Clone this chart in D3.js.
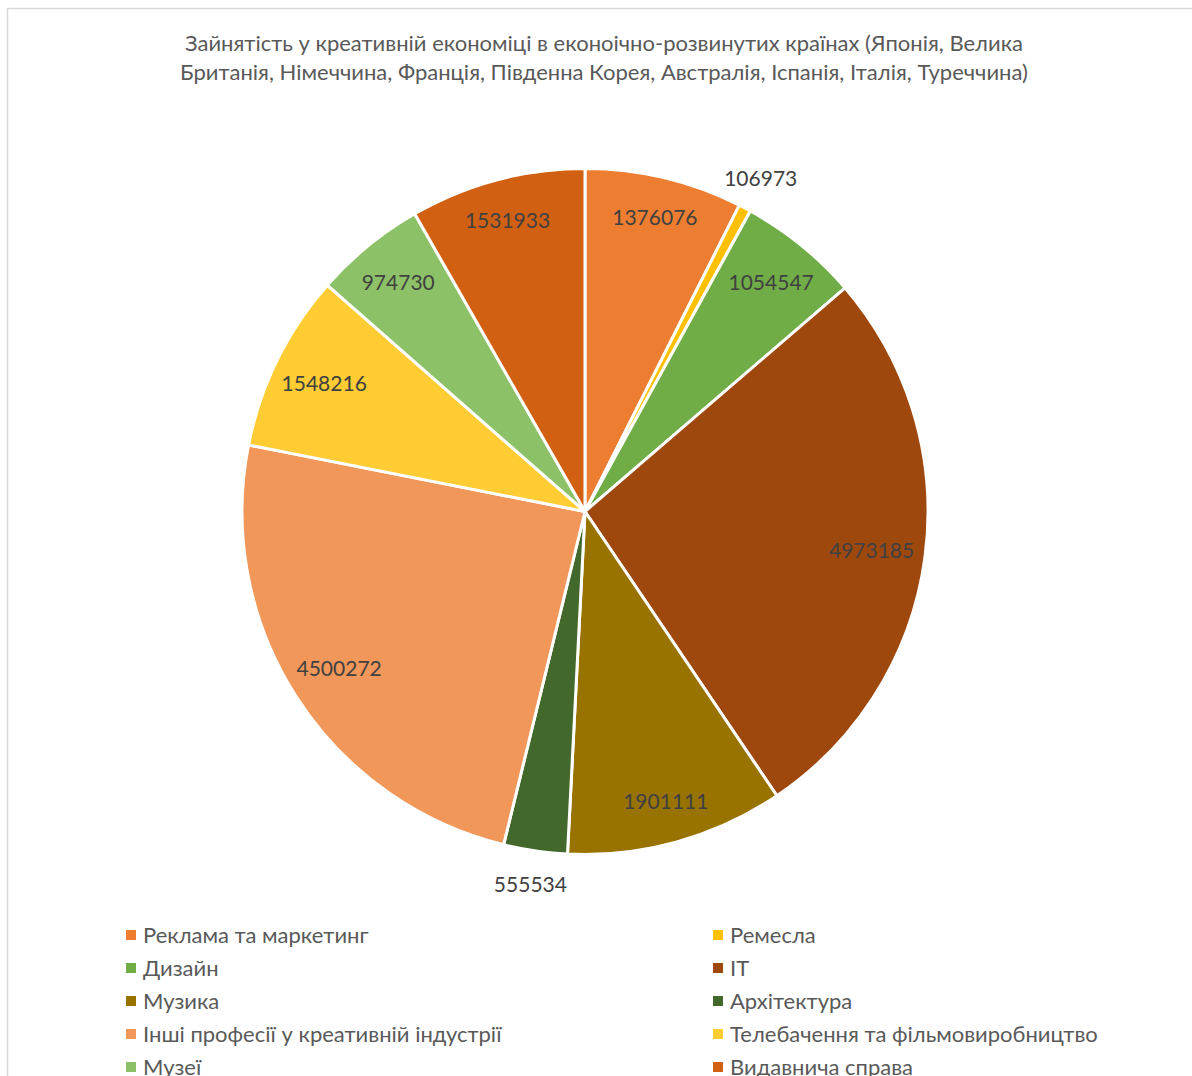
<!DOCTYPE html>
<html>
<head>
<meta charset="utf-8">
<script src="https://cdn.jsdelivr.net/npm/d3@7"></script>
<style>
  html, body { margin: 0; padding: 0; background: #fff; }
  svg { display: block; font-family: Lato, "Open Sans", sans-serif; }
</style>
</head>
<body>
<svg id="chart" width="1192" height="1076"></svg>
<script>
// Employment in the creative economy by sector
const titleLines = [
  "Зайнятість у креативній економіці в еконоічно-розвинутих країнах (Японія, Велика",
  "Британія, Німеччина, Франція, Південна Корея, Австралія, Іспанія, Італія, Туреччина)"
];
const categories = [
  "Реклама та маркетинг",
  "Ремесла",
  "Дизайн",
  "IT",
  "Музика",
  "Архітектура",
  "Інші професії у креативній індустрії",
  "Телебачення та фільмовиробництво",
  "Музеї",
  "Видавнича справа"
];
const values = [1376076, 106973, 1054547, 4973185, 1901111, 555534, 4500272, 1548216, 974730, 1531933];
const colors = ["#ED7D31", "#FFC000", "#70AD47", "#9E480E", "#997300", "#43682B", "#F1975A", "#FFCD33", "#8CC168", "#D26012"];

const W = 1192, H = 1076;
const cx = 585, cy = 511.5, R = 343;

const svg = d3.select("#chart");

// chart area frame (continues past the right and bottom edges)
svg.append("rect")
  .attr("x", 7.5).attr("y", 8.5)
  .attr("width", W + 20).attr("height", H + 20)
  .attr("fill", "#fff")
  .attr("stroke", "#d9d9d9").attr("stroke-width", 1.5);

// title
const title = svg.append("text")
  .attr("text-anchor", "middle")
  .attr("fill", "#595959")
  .attr("font-size", 22);
titleLines.forEach((t, i) => {
  title.append("tspan").attr("x", 604).attr("y", 51 + i * 29).text(t);
});

// pie
const data = categories.map((c, i) => ({ name: c, value: values[i], color: colors[i] }));
const total = d3.sum(values);
const pie = d3.pie().sort(null).value(d => d.value);
const arcs = pie(data);
const arc = d3.arc().innerRadius(0).outerRadius(R);

const g = svg.append("g").attr("transform", `translate(${cx},${cy})`);
g.selectAll("path.slice")
  .data(arcs)
  .join("path")
  .attr("class", "slice")
  .attr("d", arc)
  .attr("fill", d => d.data.color)
  .attr("stroke", "#fff")
  .attr("stroke-width", 3)
  .attr("stroke-linejoin", "round");

// data labels: inside near the rim (pulled in further where the wide
// label box faces the rim sideways), small slices just outside
function labelPos(d) {
  const a = (d.startAngle + d.endAngle) / 2;
  const small = d.data.value / total < 0.035;
  const r = small ? 377 : 306 - 17 * Math.abs(Math.sin(a));
  return [r * Math.sin(a), -r * Math.cos(a)];
}
g.selectAll("text.val")
  .data(arcs)
  .join("text")
  .attr("class", "val")
  .attr("transform", d => `translate(${labelPos(d)})`)
  .attr("text-anchor", "middle")
  .attr("dy", "0.36em")
  .attr("fill", "#404040")
  .attr("font-size", 21)
  .text(d => d.data.value);

// legend, two columns filled row by row
const legend = svg.append("g");
const colX = [126, 713], rowY0 = 935, rowStep = 33;
const items = legend.selectAll("g.item")
  .data(data)
  .join("g")
  .attr("class", "item")
  .attr("transform", (d, i) => `translate(${colX[i % 2]},${rowY0 + Math.floor(i / 2) * rowStep})`);
items.append("rect")
  .attr("x", 0).attr("y", -5)
  .attr("width", 10).attr("height", 10)
  .attr("fill", d => d.color);
items.append("text")
  .attr("x", 17).attr("y", 0)
  .attr("dy", "0.36em")
  .attr("fill", "#595959")
  .attr("font-size", 22)
  .text(d => d.name);
</script>
</body>
</html>
